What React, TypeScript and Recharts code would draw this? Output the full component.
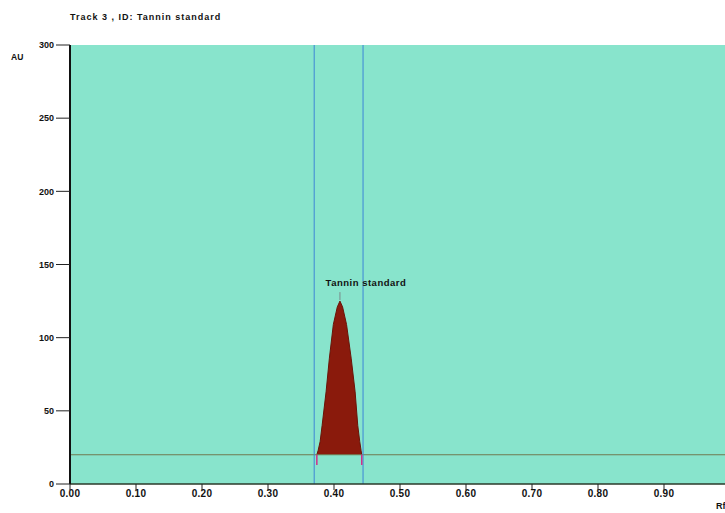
import React from 'react';
import { ComposedChart, Area, XAxis, YAxis, ReferenceLine, ReferenceArea, ReferenceDot } from 'recharts';

const rfValues = [0.374, 0.376, 0.379, 0.382, 0.388, 0.393, 0.399, 0.405, 0.409, 0.413, 0.419, 0.426, 0.432, 0.436, 0.439, 0.441, 0.442];
const auValues = [20, 23, 29, 40, 63, 86, 109, 121, 125, 121, 109, 86, 63, 40, 29, 23, 20];
const xTicks = [0, 0.1, 0.2, 0.3, 0.4, 0.5, 0.6, 0.7, 0.8, 0.9];
const yTicks = [0, 50, 100, 150, 200, 250, 300];
const baselineAU = 20;
const windowStart = 0.370;
const windowEnd = 0.444;
const peakRf = 0.409;
const peakAU = 125;
const peakName = 'Tannin standard';
const title = 'Track  3 , ID: Tannin standard';

const data = rfValues.map((rf, i) => ({ rf, au: auValues[i] }));

const FONT = '"Liberation Sans", Arial, sans-serif';

const PeakLabel = (props: any) => {
  const { viewBox } = props;
  const cx = viewBox.cx ?? viewBox.x;
  const cy = viewBox.cy ?? viewBox.y;
  return (
    <g>
      <line x1={cx} y1={cy - 9} x2={cx} y2={cy - 1} stroke="#7a8a8a" strokeWidth={1} />
      <text x={cx + 26} y={cy - 15} textAnchor="middle" fontFamily={FONT} fontSize={9.5} fontWeight="bold" letterSpacing={0.5} fill="#111">
        {peakName}
      </text>
    </g>
  );
};

export default function App() {
  return (
    <div style={{ position: 'absolute', left: 0, top: 0, width: 725, height: 513, overflow: 'hidden', background: '#fff' }}>
      <svg style={{ position: 'absolute', left: 0, top: 0 }} width={725} height={513}>
        <text x={70} y={20} fontFamily={FONT} fontSize={9} fontWeight="bold" letterSpacing={1} fill="#111">{title}</text>
        <text x={11} y={60} fontFamily={FONT} fontSize={8.5} fontWeight="bold" fill="#111">AU</text>
        <text x={716} y={509} fontFamily={FONT} fontSize={9} fontWeight="bold" fill="#111">Rf</text>
      </svg>
      <div style={{ position: 'absolute', left: 0, top: 0 }}>
        <ComposedChart width={730} height={513} data={data} margin={{ top: 45, right: 0, left: 0, bottom: 9 }}>
          <ReferenceArea x1={0} x2={1} y1={0} y2={300} fill="#88e4cc" fillOpacity={1} stroke="none" />
          <XAxis
            type="number"
            dataKey="rf"
            domain={[0, 1]}
            ticks={xTicks}
            tickFormatter={(v: number) => v.toFixed(2)}
            height={20}
            tickSize={6}
            tickMargin={0}
            axisLine={{ stroke: '#2a3a2a', strokeWidth: 1.5 }}
            tickLine={{ stroke: '#222' }}
            tick={{ fontFamily: FONT, fontSize: 10, fontWeight: 'bold', fill: '#111', letterSpacing: 0.3 }}
          />
          <YAxis
            type="number"
            domain={[0, 300]}
            ticks={yTicks}
            width={70}
            tickSize={14}
            tickMargin={2}
            axisLine={{ stroke: '#111', strokeWidth: 2 }}
            tickLine={{ stroke: '#222' }}
            tick={{ fontFamily: FONT, fontSize: 9, fontWeight: 'bold', fill: '#111' }}
          />
          <ReferenceLine y={baselineAU} stroke="#6f7a4f" strokeWidth={1.2} />
          <Area
            type="linear"
            dataKey="au"
            baseValue={baselineAU}
            stroke="#6a1408"
            strokeWidth={1}
            fill="#8a1a0c"
            fillOpacity={1}
            isAnimationActive={false}
          />
          <ReferenceLine x={windowStart} stroke="#3d86d6" strokeWidth={1} />
          <ReferenceLine x={windowEnd} stroke="#3d86d6" strokeWidth={1} />
          <ReferenceLine segment={[{ x: 0.374, y: baselineAU }, { x: 0.374, y: 13 }]} stroke="#d0308a" strokeWidth={1.5} />
          <ReferenceLine segment={[{ x: 0.442, y: baselineAU }, { x: 0.442, y: 13 }]} stroke="#d0308a" strokeWidth={1.5} />
          <ReferenceDot x={peakRf} y={peakAU} r={0} fill="none" stroke="none" label={<PeakLabel />} />
        </ComposedChart>
      </div>
    </div>
  );
}
